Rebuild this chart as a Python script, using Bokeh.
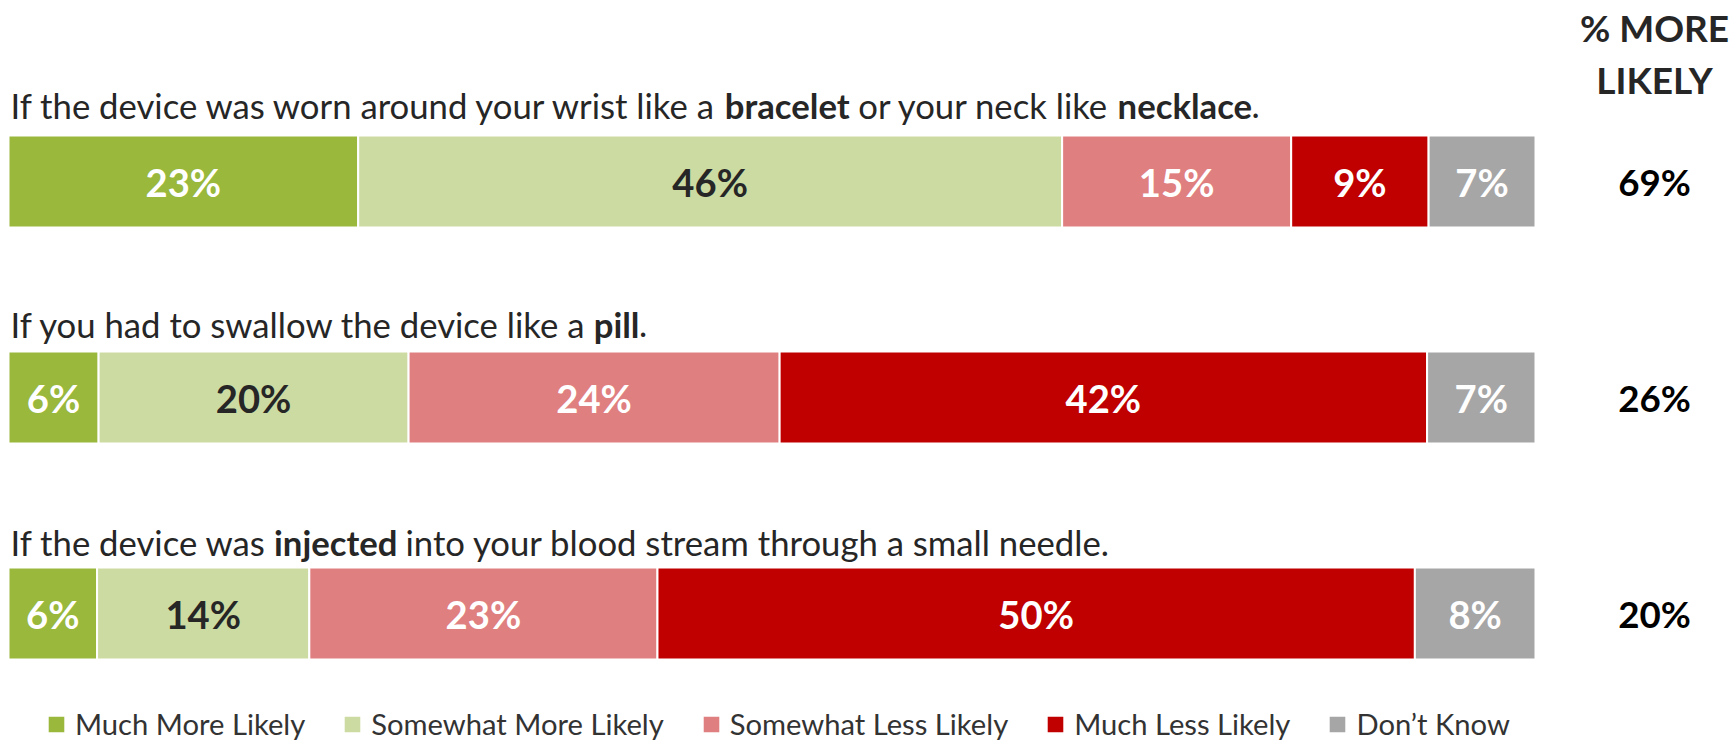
import os
import struct
import numpy as np
from bokeh.plotting import figure
from bokeh.models import ColumnDataSource, Range1d
from bokeh.core.properties import value
from bokeh.embed import file_html
from bokeh.resources import INLINE

# ---------------- data ----------------
rows = [0, 1, 2]
questions = [
    [("If the device was worn around your wrist like a ", "normal"), ("bracelet", "bold"),
     (" or your neck like ", "normal"), ("necklace", "bold"), (".", "normal")],
    [("If you had to swallow the device like a ", "normal"), ("pill", "bold"), (".", "normal")],
    [("If the device was ", "normal"), ("injected", "bold"),
     (" into your blood stream through a small needle.", "normal")],
]
series = ["Much More Likely", "Somewhat More Likely", "Somewhat Less Likely",
          "Much Less Likely", "Don\u2019t Know"]
much_more = [22.9, 5.9, 5.8]
somewhat_more = [46.1, 20.3, 13.9]
somewhat_less = [15.0, 24.3, 22.8]
much_less = [9.0, 42.4, 49.6]
dont_know = [7.0, 7.1, 7.9]
pct_more = [69, 26, 20]
side_title = ["% MORE", "LIKELY"]

colors = ["#99B83C", "#CCDBA2", "#E07F7F", "#C00000", "#A6A6A6"]
label_colors = ["#FFFFFF", "#262626", "#FFFFFF", "#FFFFFF", "#FFFFFF"]
FONT = "Lato"


# ---------------- font metrics (for placing bold runs) ----------------
def find_font(name):
    roots = ["/usr/share/fonts", "/usr/local/share/fonts",
             os.path.expanduser("~/.fonts"), os.path.expanduser("~/.local/share/fonts")]
    for root in roots:
        if not os.path.isdir(root):
            continue
        for dp, dn, fn in os.walk(root):
            for f in fn:
                if f.lower() == name.lower():
                    return os.path.join(dp, f)
    return None


def make_metric(path, fallback_em, kern=1.0):
    def fallback(s, size):
        return len(s) * fallback_em * size
    if path is None:
        return fallback
    try:
        data = open(path, "rb").read()
        n_tables = struct.unpack(">H", data[4:6])[0]
        tables = {}
        for i in range(n_tables):
            off = 12 + 16 * i
            tag = data[off:off + 4].decode("latin1")
            _, toff, tlen = struct.unpack(">III", data[off + 4:off + 16])
            tables[tag] = toff
        head = tables["head"]
        upem = struct.unpack(">H", data[head + 18:head + 20])[0]
        hhea = tables["hhea"]
        n_hm = struct.unpack(">H", data[hhea + 34:hhea + 36])[0]
        hmtx = tables["hmtx"]
        adv = [struct.unpack(">H", data[hmtx + 4 * i:hmtx + 4 * i + 2])[0] for i in range(n_hm)]
        cmap = tables["cmap"]
        nsub = struct.unpack(">H", data[cmap + 2:cmap + 4])[0]
        sub = None
        for i in range(nsub):
            pid, eid, off = struct.unpack(">HHI", data[cmap + 4 + 8 * i:cmap + 12 + 8 * i])
            fmt = struct.unpack(">H", data[cmap + off:cmap + off + 2])[0]
            if fmt == 4:
                sub = cmap + off
                break
        seg2 = struct.unpack(">H", data[sub + 6:sub + 8])[0]
        segs = seg2 // 2
        ends = struct.unpack(">%dH" % segs, data[sub + 14:sub + 14 + seg2])
        so = sub + 16 + seg2
        starts = struct.unpack(">%dH" % segs, data[so:so + seg2])
        do = so + seg2
        deltas = struct.unpack(">%dh" % segs, data[do:do + seg2])
        ro = do + seg2
        ros = struct.unpack(">%dH" % segs, data[ro:ro + seg2])

        def gid(c):
            for i in range(segs):
                if starts[i] <= c <= ends[i]:
                    if ros[i] == 0:
                        return (c + deltas[i]) & 0xFFFF
                    addr = ro + 2 * i + ros[i] + 2 * (c - starts[i])
                    g = struct.unpack(">H", data[addr:addr + 2])[0]
                    return (g + deltas[i]) & 0xFFFF if g else 0
            return 0

        def width(s, size):
            tot = 0
            for ch in s:
                g = gid(ord(ch))
                tot += adv[min(g, n_hm - 1)]
            return kern * tot * size / upem
        width("abc", 10)
        return width
    except Exception:
        return fallback


w_reg = make_metric(find_font("Lato-Regular.ttf"), 0.50, kern=0.991)
w_bold = make_metric(find_font("Lato-Bold.ttf"), 0.53, kern=0.992)


def wmeas(s, style, size):
    return (w_bold if style == "bold" else w_reg)(s, size)


# ---------------- layout constants (pixels) ----------------
W, H = 1733, 740
x0_px, x100_px = 8.0, 1535.0
ppu = (x100_px - x0_px) / 100.0
row_px = 216.0
row0_px = 181.0
bar_h_px = 92.0
q_gap_px = [30.0, 27.0, 25.0]

x_start = -x0_px / ppu
x_end = x_start + W / ppu
y_top = -row0_px / row_px
y_bottom = y_top + H / row_px

# fitted font sizes
q_size = 1249.0 / sum(wmeas(t, s, 1.0) for t, s in questions[0])
q_size = float(np.clip(q_size, 24, 40))
lab_size = float(np.clip(75.0 / wmeas("46%", "bold", 1.0), 30, 48))
pm_size = float(np.clip(72.0 / wmeas("69%", "bold", 1.0), 28, 44))
ttl_size = float(np.clip(148.0 / wmeas("% MORE", "bold", 1.0), 28, 44))
leg_size = float(np.clip(1172.0 / sum(wmeas(s, "normal", 1.0) for s in series), 20, 34))

p = figure(width=W, height=H, output_backend="svg", toolbar_location=None,
           x_range=Range1d(x_start, x_end), y_range=Range1d(y_bottom, y_top),
           min_border=0, x_axis_location=None, y_axis_location=None,
           background_fill_color="white", border_fill_color="white")
p.outline_line_color = None
p.grid.visible = False

keys = ["mm", "sm", "sl", "ml", "dk"]
src = ColumnDataSource(dict(row=rows, mm=much_more, sm=somewhat_more, sl=somewhat_less,
                            ml=much_less, dk=dont_know))
rends = p.hbar_stack(keys, y="row", height=bar_h_px / row_px, color=colors, source=src,
                     line_color="white", line_width=2, legend_label=series)

# segment labels
vals = np.array([much_more, somewhat_more, somewhat_less, much_less, dont_know])
lefts = np.vstack([np.zeros(len(rows)), np.cumsum(vals, axis=0)[:-1]])
lx, ly, lt, lc = [], [], [], []
for i in range(vals.shape[0]):
    for r in range(len(rows)):
        lx.append(lefts[i, r] + vals[i, r] / 2.0)
        ly.append(rows[r])
        lt.append("%d%%" % int(round(vals[i, r])))
        lc.append(label_colors[i])
p.text(x="x", y="y", text="t", text_color="c",
       source=ColumnDataSource(dict(x=lx, y=ly, t=lt, c=lc)),
       text_font=value(FONT), text_font_style="bold", text_font_size="%.1fpx" % lab_size,
       text_align="center", text_baseline="middle")

# question texts with bold runs
qx, qy, qt, qs, qo = [], [], [], [], []
for r, segs, gap in zip(rows, questions, q_gap_px):
    cum = 2.0
    for t, s in segs:
        lead = len(t) - len(t.lstrip(" "))
        sp = wmeas(" ", s, q_size)
        qx.append(0.0)
        qy.append(r - (bar_h_px / 2.0 + gap) / row_px)
        qt.append(t.strip(" "))
        qs.append(s)
        qo.append(cum + lead * sp)
        cum += wmeas(t, s, q_size)
p.text(x="x", y="y", text="t", x_offset="o", text_font_style="s",
       source=ColumnDataSource(dict(x=qx, y=qy, t=qt, s=qs, o=qo)),
       text_font=value(FONT), text_font_size="%.1fpx" % q_size, text_color="#262626",
       text_align="left", text_baseline="alphabetic")

# % more likely column
col_x = (1654.0 - x0_px) / ppu
p.text(x=[col_x] * len(rows), y=rows, text=["%d%%" % v for v in pct_more],
       text_font=value(FONT), text_font_style="bold", text_font_size="%.1fpx" % pm_size,
       text_color="#000000", text_align="center", text_baseline="middle")
p.text(x=[col_x] * 2, y=[(27.0 - row0_px) / row_px, (79.0 - row0_px) / row_px], text=side_title,
       text_font=value(FONT), text_font_style="bold", text_font_size="%.1fpx" % ttl_size,
       text_color="#262626", text_align="center", text_baseline="middle")

# legend
gsz = 22
standoff = 8
leg = p.legend[0]
leg.orientation = "horizontal"
leg.border_line_color = None
leg.background_fill_alpha = 0
leg.padding = 0
leg.margin = 0
leg.glyph_width = gsz
leg.glyph_height = gsz
leg.label_height = gsz
leg.label_standoff = standoff
leg.label_text_font = FONT
leg.label_text_font_size = "%.1fpx" % leg_size
leg.label_text_color = "#333333"
first4 = sum(w_reg(s, leg_size) for s in series[:4])
leg.spacing = int(max(10, (1333.0 - 48.0 - first4 - 4 * (gsz + standoff)) / 4.0))
leg.location = (45, -1)

open("out.html", "w").write(file_html(p, INLINE))
